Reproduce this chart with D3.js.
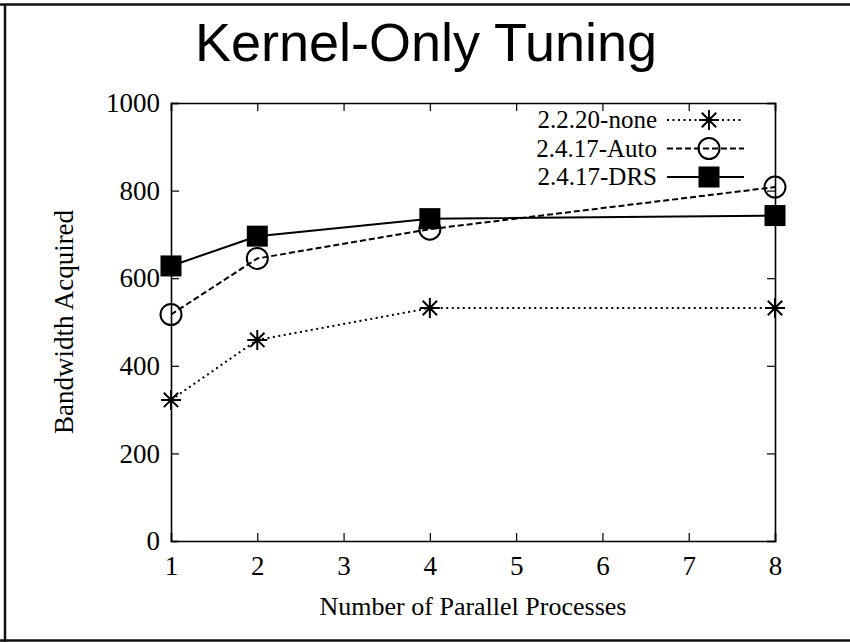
<!DOCTYPE html>
<html>
<head>
<meta charset="utf-8">
<script src="https://cdn.jsdelivr.net/npm/d3@7"></script>
<style>
  body { margin: 0; background: #fff; }
  svg { display: block; }
</style>
</head>
<body>
<div id="chart"></div>
<script>
// processes on the x axis
var procs = [1, 2, 4, 8];
// bandwidth per kernel setup
var noneVals = [322, 459, 532, 532];
var autoVals = [517, 645, 712, 808];
var drsVals  = [628, 696, 736, 743];

var seriesNames = ["2.2.20-none", "2.4.17-Auto", "2.4.17-DRS"];
var xTicks = [1, 2, 3, 4, 5, 6, 7, 8];
var yTicks = [0, 200, 400, 600, 800, 1000];

var W = 850, H = 642;
var margin = {top: 103, right: 75, bottom: 101, left: 171};
var width = W - margin.left - margin.right,
    height = H - margin.top - margin.bottom;

var svg = d3.select("#chart").append("svg")
  .attr("width", W).attr("height", H);

// page frame (top, left, bottom)
svg.append("line").attr("x1", 0).attr("x2", W).attr("y1", 4.5).attr("y2", 4.5)
  .attr("stroke", "#111").attr("stroke-width", 2.5);
svg.append("line").attr("x1", 5).attr("x2", 5).attr("y1", 4).attr("y2", H)
  .attr("stroke", "#111").attr("stroke-width", 2.5);
svg.append("line").attr("x1", 0).attr("x2", W).attr("y1", 640.5).attr("y2", 640.5)
  .attr("stroke", "#111").attr("stroke-width", 2.5);

svg.append("text")
  .attr("x", 426).attr("y", 61)
  .attr("text-anchor", "middle")
  .style("font-family", "'Liberation Sans Narrow', 'Arial Narrow', 'Liberation Sans', sans-serif")
  .style("font-size", "54px")
  .text("Kernel-Only Tuning");

var g = svg.append("g")
  .attr("transform", "translate(" + margin.left + "," + margin.top + ")");

var x = d3.scaleLinear().domain([1, 8]).range([0, width]);
var y = d3.scaleLinear().domain([0, 1000]).range([height, 0]);

var tickFont = "'Liberation Serif', 'Times New Roman', serif";

// axes, ticks pointing inward
var xAxis = g.append("g").attr("transform", "translate(0," + height + ")")
  .call(d3.axisBottom(x).tickValues(xTicks).tickSize(-8).tickPadding(15).tickFormat(d3.format("d")));
var xTop = g.append("g")
  .call(d3.axisTop(x).tickValues(xTicks).tickSize(-8).tickFormat(""));
var yAxis = g.append("g")
  .call(d3.axisLeft(y).tickValues(yTicks).tickSize(-8).tickPadding(11).tickFormat(d3.format("d")));
var yRight = g.append("g").attr("transform", "translate(" + width + ",0)")
  .call(d3.axisRight(y).tickValues(yTicks).tickSize(-8).tickFormat(""));

[xAxis, xTop, yAxis, yRight].forEach(function(a) {
  a.select(".domain").attr("stroke", "#000").attr("stroke-width", 1.6);
  a.selectAll(".tick line").attr("stroke", "#000").attr("stroke-width", 1.2);
  a.selectAll("text").style("font-family", tickFont).style("font-size", "27px").attr("fill", "#000");
});

svg.append("text")
  .attr("transform", "translate(73," + (margin.top + height / 2) + ") rotate(-90)")
  .attr("text-anchor", "middle")
  .style("font-family", tickFont).style("font-size", "27px")
  .text("Bandwidth Acquired");

svg.append("text")
  .attr("x", margin.left + width / 2).attr("y", 615)
  .attr("text-anchor", "middle")
  .style("font-family", tickFont).style("font-size", "26px")
  .text("Number of Parallel Processes");

var series = [
  {name: seriesNames[0], values: noneVals, dash: "2,3.5", mark: "star"},
  {name: seriesNames[1], values: autoVals, dash: "6,3", mark: "circle"},
  {name: seriesNames[2], values: drsVals, dash: null, mark: "square"}
];

var line = d3.line().x(function(d) { return x(d[0]); }).y(function(d) { return y(d[1]); });

function drawMark(sel, type, cx, cy) {
  if (type === "star") {
    var r = 10, d = 7.2;
    var p = "M" + (cx - r) + "," + cy + "H" + (cx + r) +
            "M" + cx + "," + (cy - r) + "V" + (cy + r) +
            "M" + (cx - d) + "," + (cy - d) + "L" + (cx + d) + "," + (cy + d) +
            "M" + (cx - d) + "," + (cy + d) + "L" + (cx + d) + "," + (cy - d);
    sel.append("path").attr("d", p).attr("stroke", "#000").attr("stroke-width", 2).attr("fill", "none");
  } else if (type === "circle") {
    sel.append("circle").attr("cx", cx).attr("cy", cy).attr("r", 10.5)
      .attr("fill", "none").attr("stroke", "#000").attr("stroke-width", 2);
  } else {
    sel.append("rect").attr("x", cx - 10.5).attr("y", cy - 10.5)
      .attr("width", 21).attr("height", 21).attr("fill", "#000");
  }
}

series.forEach(function(s) {
  var pts = procs.map(function(p, i) { return [p, s.values[i]]; });
  g.append("path").datum(pts)
    .attr("d", line)
    .attr("fill", "none").attr("stroke", "#000").attr("stroke-width", 2)
    .attr("stroke-dasharray", s.dash);
  pts.forEach(function(pt) { drawMark(g, s.mark, x(pt[0]), y(pt[1])); });
});

// legend
var leg = svg.append("g");
series.forEach(function(s, i) {
  var ly = 120 + i * 28.5;
  leg.append("text")
    .attr("x", 657).attr("y", ly + 8)
    .attr("text-anchor", "end")
    .style("font-family", tickFont).style("font-size", "25px")
    .text(s.name);
  leg.append("line")
    .attr("x1", 667).attr("x2", 744).attr("y1", ly).attr("y2", ly)
    .attr("stroke", "#000").attr("stroke-width", 2).attr("stroke-dasharray", s.dash);
  drawMark(leg, s.mark, 709, ly);
});
</script>
</body>
</html>
